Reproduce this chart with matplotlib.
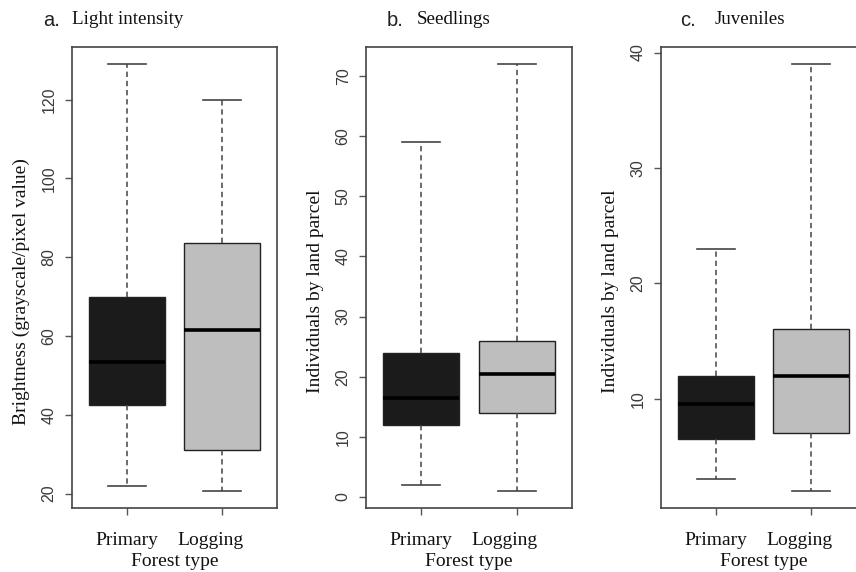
import matplotlib.pyplot as plt
import matplotlib.transforms as mtransforms

# Forest types (x categories)
forest_types = ['Primary', 'Logging']

# a. Light intensity
light_whislo = [22, 20.7]
light_q1 = [42.4, 31]
light_med = [53.5, 61.5]
light_q3 = [70, 83.6]
light_whishi = [129, 120]
light_ticks = [20, 40, 60, 80, 100, 120]

# b. Seedlings
seed_whislo = [2, 1]
seed_q1 = [12, 13.9]
seed_med = [16.5, 20.5]
seed_q3 = [24, 26]
seed_whishi = [59, 72]
seed_ticks = [0, 10, 20, 30, 40, 50, 60, 70]

# c. Juveniles
juv_whislo = [3, 2]
juv_q1 = [6.5, 7]
juv_med = [9.5, 12]
juv_q3 = [12, 16]
juv_whishi = [23, 39]
juv_ticks = [10, 20, 30, 40]

box_colors = ['#1b1b1b', '#bebebe']

W, H = 856, 572
fig = plt.figure(figsize=(W / 100, H / 100), dpi=100)

serif = 'Liberation Serif'
sans = 'Liberation Sans'


def make_axes(left, top, right, bottom):
    return fig.add_axes([left / W, 1 - bottom / H, (right - left) / W, (bottom - top) / H])


def draw_panel(ax, whislo, q1, med, q3, whishi, ticks, ylabel):
    stats = []
    for i in range(len(forest_types)):
        stats.append({'whislo': whislo[i], 'q1': q1[i], 'med': med[i],
                      'q3': q3[i], 'whishi': whishi[i], 'fliers': [],
                      'label': forest_types[i]})
    bp = ax.bxp(stats, positions=[1, 2], widths=0.8, capwidths=0.4,
                patch_artist=True, showfliers=False,
                boxprops=dict(edgecolor='#222222', linewidth=1.0),
                medianprops=dict(color='black', linewidth=2.6, solid_capstyle='butt'),
                whiskerprops=dict(color='#444444', linewidth=1.1, linestyle=(0, (3.5, 2.5))),
                capprops=dict(color='#444444', linewidth=1.2))
    for patch, c in zip(bp['boxes'], box_colors):
        patch.set_facecolor(c)
    for m in bp['medians']:
        m.set_zorder(5)

    lo = min(whislo)
    hi = max(whishi)
    pad = 0.04 * (hi - lo)
    ax.set_ylim(lo - pad, hi + pad)
    ax.set_xlim(0.42, 2.58)

    ax.set_yticks(ticks)
    ax.set_yticklabels([str(t) for t in ticks], rotation=90, va='center',
                       fontsize=11.5, family=sans, color='#3a3a3a')
    ax.set_xticks([1, 2])
    ax.set_xticklabels(forest_types, fontsize=14, family=serif, color='#111111')
    ax.tick_params(axis='y', direction='out', length=5, width=1, color='#555555', pad=6)
    ax.tick_params(axis='x', direction='out', length=5, width=1, color='#555555', pad=12)
    # second label sits a bit left of its tick in the reference
    lab = ax.get_xticklabels()[1]
    lab.set_transform(lab.get_transform() + mtransforms.ScaledTranslation(-0.12, 0, fig.dpi_scale_trans))

    ax.set_xlabel('Forest type', fontsize=14, family=serif, labelpad=3, color='#111111')
    ax.set_ylabel(ylabel, fontsize=14, family=serif, color='#111111')
    ax.yaxis.set_label_coords(-0.205, 0.47)
    for s in ax.spines.values():
        s.set_color('#444444')
        s.set_linewidth(1.2)


ax1 = make_axes(72, 47, 277, 508)
ax2 = make_axes(366, 47, 572, 508)
ax3 = make_axes(661, 47, 866, 508)

draw_panel(ax1, light_whislo, light_q1, light_med, light_q3, light_whishi,
           light_ticks, 'Brightness (grayscale/pixel value)')
draw_panel(ax2, seed_whislo, seed_q1, seed_med, seed_q3, seed_whishi,
           seed_ticks, 'Individuals by land parcel')
draw_panel(ax3, juv_whislo, juv_q1, juv_med, juv_q3, juv_whishi,
           juv_ticks, 'Individuals by land parcel')

# panel titles
titles = [('a.', 'Light intensity', 43, 72),
          ('b.', 'Seedlings', 387, 417),
          ('c.', 'Juveniles', 680, 715)]
for letter, name, xl, xn in titles:
    fig.text(xl / W, 1 - 21 / H, letter, fontsize=14.5, family=sans,
             va='center', ha='left', color='#222222')
    fig.text(xn / W, 1 - 20 / H, name, fontsize=13.7, family=serif,
             va='center', ha='left', color='#111111')

fig.savefig('out.png', dpi=100)
